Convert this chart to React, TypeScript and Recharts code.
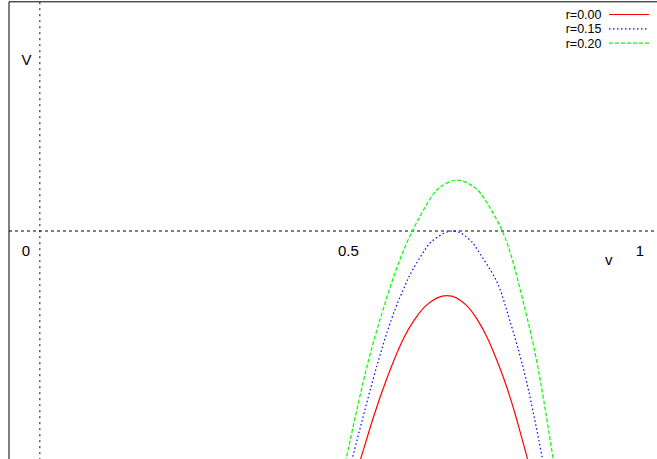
import { LineChart, Line, XAxis, YAxis, ReferenceLine, ReferenceDot, Legend } from "recharts";

// V(v) curves, one array per r
const r000 = [
  { x: 0.5089, y: -1.085 },
  { x: 0.5199, y: -0.9935 },
  { x: 0.5392, y: -0.8235 },
  { x: 0.5615, y: -0.6492 },
  { x: 0.5882, y: -0.4749 },
  { x: 0.6068, y: -0.3878 },
  { x: 0.627, y: -0.3224 },
  { x: 0.6597, y: -0.2819 },
  { x: 0.6905, y: -0.3224 },
  { x: 0.7092, y: -0.3878 },
  { x: 0.7265, y: -0.4749 },
  { x: 0.7524, y: -0.6492 },
  { x: 0.7728, y: -0.8235 },
  { x: 0.7901, y: -0.9935 },
  { x: 0.8002, y: -1.085 },
];

const r015 = [
  { x: 0.4976, y: -1.085 },
  { x: 0.5062, y: -0.9935 },
  { x: 0.5397, y: -0.6501 },
  { x: 0.5693, y: -0.3883 },
  { x: 0.5886, y: -0.2574 },
  { x: 0.6039, y: -0.1702 },
  { x: 0.6238, y: -0.0829 },
  { x: 0.6379, y: -0.0392 },
  { x: 0.6691, y: 0 },
  { x: 0.6969, y: -0.0392 },
  { x: 0.7092, y: -0.0829 },
  { x: 0.7301, y: -0.1702 },
  { x: 0.746, y: -0.2574 },
  { x: 0.7612, y: -0.3883 },
  { x: 0.788, y: -0.6501 },
  { x: 0.8144, y: -0.9935 },
  { x: 0.8214, y: -1.085 },
];

const r020 = [
  { x: 0.4887, y: -1.085 },
  { x: 0.4963, y: -0.9935 },
  { x: 0.5248, y: -0.6492 },
  { x: 0.551, y: -0.3878 },
  { x: 0.5772, y: -0.1699 },
  { x: 0.6036, y: 0 },
  { x: 0.6332, y: 0.1438 },
  { x: 0.6515, y: 0.1961 },
  { x: 0.6764, y: 0.2222 },
  { x: 0.7013, y: 0.1961 },
  { x: 0.7196, y: 0.1438 },
  { x: 0.7492, y: 0 },
  { x: 0.7701, y: -0.1699 },
  { x: 0.7903, y: -0.3878 },
  { x: 0.8107, y: -0.6492 },
  { x: 0.8317, y: -0.9935 },
  { x: 0.8379, y: -1.085 },
];

const tickLabels = [
  { x: 0, text: "0", dx: -14 },
  { x: 0.5, text: "0.5", dx: 0 },
  { x: 1, text: "1", dx: -17 },
];

const series = [
  { name: "r=0.00", data: r000, color: "#ff0000", dash: undefined },
  { name: "r=0.15", data: r015, color: "#0000ff", dash: "1.5 2.5" },
  { name: "r=0.20", data: r020, color: "#00ff00", dash: "4 2" },
];

const font = "'Liberation Sans', Arial, Helvetica, sans-serif";

const LegendBox = () => (
  <svg width={657} height={55} style={{ display: "block" }}>
    {series.map((s, i) => {
      const cy = 14.5 + i * 14.3;
      return (
        <g key={s.name}>
          <text x={601.5} y={cy + 4.5} textAnchor="end" fontSize={12.5} fontFamily={font} fill="#000">
            {s.name}
          </text>
          <line x1={609} x2={649} y1={cy} y2={cy} stroke={s.color} strokeWidth={1.2} strokeDasharray={s.dash} />
        </g>
      );
    })}
  </svg>
);

export default function App() {
  return (
    <div style={{ position: "absolute", left: 0, top: 0, width: 657, height: 459, overflow: "hidden", background: "#fff" }}>
      <LineChart width={657} height={462} margin={{ top: 1.8, right: 0, bottom: 1.8, left: 9 }}>
        <XAxis type="number" dataKey="x" domain={[-0.05, 1]} hide allowDataOverflow />
        <YAxis type="number" dataKey="y" domain={[-1, 1]} hide allowDataOverflow />
        <ReferenceLine x={-0.05} stroke="#000" strokeWidth={1} />
        <ReferenceLine y={1} stroke="#000" strokeWidth={1} />
        <ReferenceLine x={0} stroke="#000" strokeDasharray="2 4" />
        <ReferenceLine y={0} stroke="#000" strokeDasharray="3 3" />
        {series.map((s) => (
          <Line
            key={s.name}
            data={s.data}
            dataKey="y"
            name={s.name}
            type="natural"
            stroke={s.color}
            strokeWidth={1.2}
            strokeDasharray={s.dash}
            dot={false}
            isAnimationActive={false}
          />
        ))}
        {tickLabels.map((t) => (
          <ReferenceDot
            key={t.text}
            x={t.x}
            y={0}
            r={0}
            fill="none"
            stroke="none"
            label={(p: any) => (
              <text x={p.viewBox.x + t.dx} y={p.viewBox.y + 24.5} textAnchor="middle" fontSize={15} fontFamily={font} fill="#000">
                {t.text}
              </text>
            )}
          />
        ))}
        <ReferenceDot
          x={-0.0217}
          y={0.75}
          r={0}
          fill="none"
          stroke="none"
          label={(p: any) => (
            <text x={p.viewBox.x} y={p.viewBox.y + 6} textAnchor="middle" fontSize={15} fontFamily={font} fill="#000">
              V
            </text>
          )}
        />
        <ReferenceDot
          x={0.922}
          y={-0.129}
          r={0}
          fill="none"
          stroke="none"
          label={(p: any) => (
            <text x={p.viewBox.x} y={p.viewBox.y + 4.5} textAnchor="middle" fontSize={15} fontFamily={font} fill="#000">
              v
            </text>
          )}
        />
        <Legend
          layout="vertical"
          align="center"
          verticalAlign="middle"
          wrapperStyle={{ top: 0, left: 0, width: 657 }}
          content={() => <LegendBox />}
        />
      </LineChart>
    </div>
  );
}
